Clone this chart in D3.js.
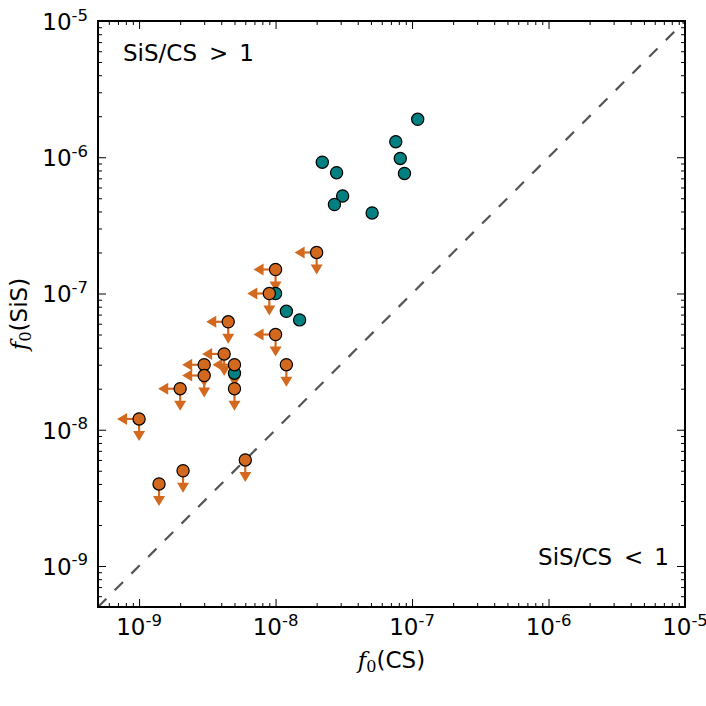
<!DOCTYPE html>
<html><head><meta charset="utf-8">
<script src="https://cdn.jsdelivr.net/npm/d3@7"></script>
<style>body{margin:0;background:#fff}svg{display:block}</style>
</head><body>
<svg id="c" width="706" height="706"></svg>
<script>
// Detections (teal)
const detCS  = [1.1e-7, 7.6e-8, 8.2e-8, 8.8e-8, 2.2e-8, 2.8e-8, 3.1e-8, 2.7e-8, 5.1e-8, 1.0e-8, 1.2e-8, 1.5e-8, 5.0e-9];
const detSiS = [1.9e-6, 1.3e-6, 9.8e-7, 7.6e-7, 9.2e-7, 7.7e-7, 5.2e-7, 4.5e-7, 3.9e-7, 1.0e-7, 7.4e-8, 6.4e-8, 2.6e-8];
// Upper limits (orange)
const limCS   = [2e-8, 1e-8, 9e-9, 4.5e-9, 1e-8, 4.2e-9, 5e-9, 3e-9, 3e-9, 5e-9, 1.2e-8, 2e-9, 1e-9, 6e-9, 2.1e-9, 1.4e-9];
const limSiS  = [2e-7, 1.5e-7, 1e-7, 6.2e-8, 5e-8, 3.6e-8, 3e-8, 3e-8, 2.5e-8, 2e-8, 3e-8, 2e-8, 1.2e-8, 6e-9, 5e-9, 4e-9];
const limCSUpper = [1, 1, 1, 1, 1, 1, 1, 1, 1, 0, 0, 1, 1, 0, 0, 0];
// Axis
const domainLo = 5e-10, domainHi = 1e-5;
const majorTicks = [1e-9, 1e-8, 1e-7, 1e-6, 1e-5];
const majorExp = ["-9", "-8", "-7", "-6", "-5"];

const svg = d3.select("#c");
const L = 98, R = 685, T = 21, B = 607;
const x = d3.scaleLog().domain([domainLo, domainHi]).range([L, R]);
const y = d3.scaleLog().domain([domainLo, domainHi]).range([B, T]);

const ORANGE = "#D2691E", TEAL = "#008080";
const sans = "'DejaVu Sans', sans-serif";
const serif = "'DejaVu Serif', serif";

// minor ticks from scale
const minor = x.ticks().filter(v => !majorTicks.some(m => Math.abs(m - v) / m < 1e-6));

function axisG(axisFn, scale, tx, ty) {
  const gM = svg.append("g").attr("transform", `translate(${tx},${ty})`)
    .call(axisFn(scale).tickValues(majorTicks).tickSize(-8).tickSizeOuter(0).tickFormat(""));
  const gm = svg.append("g").attr("transform", `translate(${tx},${ty})`)
    .call(axisFn(scale).tickValues(minor).tickSize(-4).tickSizeOuter(0).tickFormat(""));
  [gM, gm].forEach(g => {
    g.select(".domain").remove();
    g.selectAll(".tick line").attr("stroke", "#000").attr("stroke-width", 1);
  });
}
axisG(d3.axisBottom, x, 0, B);
axisG(d3.axisTop, x, 0, T);
axisG(d3.axisLeft, y, L, 0);
axisG(d3.axisRight, y, R, 0);

// diagonal 1:1 line
svg.append("line")
  .attr("x1", x(domainLo)).attr("y1", y(domainLo))
  .attr("x2", x(domainHi)).attr("y2", y(domainHi))
  .attr("stroke", "#555").attr("stroke-width", 2.2)
  .attr("stroke-dasharray", "11.8,11.8");

// tick labels
majorTicks.forEach((v, i) => {
  const t = svg.append("text").attr("x", x(v)).attr("y", 635)
    .attr("text-anchor", "middle").attr("font-family", sans).attr("fill", "#000");
  t.append("tspan").attr("font-size", 23).text("10");
  t.append("tspan").attr("font-size", 16.5).attr("dy", -9.5).text(majorExp[i]);
  const u = svg.append("text").attr("x", 88).attr("y", y(v) + 9)
    .attr("text-anchor", "end").attr("font-family", sans).attr("fill", "#000");
  u.append("tspan").attr("font-size", 23).text("10");
  u.append("tspan").attr("font-size", 16.5).attr("dy", -9.5).text(majorExp[i]);
});

// axis labels
function mathLabel(g, name) {
  const t = g.append("text").attr("text-anchor", "middle").attr("fill", "#000");
  t.append("tspan").attr("font-family", serif).attr("font-style", "italic").attr("font-size", 23).text("f");
  t.append("tspan").attr("font-family", serif).attr("font-size", 16).attr("dy", 4).text("0");
  t.append("tspan").attr("font-family", sans).attr("font-size", 23).attr("dy", -4).text("(" + name + ")");
}
mathLabel(svg.append("g").attr("transform", `translate(${(L + R) / 2},668)`), "CS");
mathLabel(svg.append("g").attr("transform", `translate(27,${(T + B) / 2}) rotate(-90)`), "SiS");

// annotations
function ratioText(xp, yp, anchor, op) {
  const t = svg.append("text").attr("x", xp).attr("y", yp).attr("text-anchor", anchor)
    .attr("font-family", sans).attr("font-size", 23).attr("fill", "#000");
  t.append("tspan").text("SiS/CS");
  t.append("tspan").attr("dx", 12).text(op);
  t.append("tspan").attr("dx", 11).text("1");
}
ratioText(123, 61, "start", ">");
ratioText(669, 565, "end", "<");

// upper-limit arrows
const AL = 22, HL = 10, HW = 6;
const limIdx = d3.range(limCS.length);
const arrows = svg.append("g");
limIdx.forEach(i => {
  const cx = x(limCS[i]), cy = y(limSiS[i]);
  // down arrow (SiS upper limit)
  arrows.append("line").attr("x1", cx).attr("y1", cy).attr("x2", cx).attr("y2", cy + AL - HL + 1)
    .attr("stroke", ORANGE).attr("stroke-width", 2.2);
  arrows.append("path")
    .attr("d", `M${cx - HW},${cy + AL - HL}L${cx + HW},${cy + AL - HL}L${cx},${cy + AL}Z`)
    .attr("fill", ORANGE);
  if (limCSUpper[i]) {
    arrows.append("line").attr("x1", cx).attr("y1", cy).attr("x2", cx - AL + HL - 1).attr("y2", cy)
      .attr("stroke", ORANGE).attr("stroke-width", 2.2);
    arrows.append("path")
      .attr("d", `M${cx - AL + HL},${cy - HW}L${cx - AL + HL},${cy + HW}L${cx - AL},${cy}Z`)
      .attr("fill", ORANGE);
  }
});

// detections
svg.append("g").selectAll("circle").data(d3.range(detCS.length)).join("circle")
  .attr("cx", i => x(detCS[i])).attr("cy", i => y(detSiS[i])).attr("r", 6.1)
  .attr("fill", TEAL).attr("stroke", "#000").attr("stroke-width", 1.2);

// limit circles
svg.append("g").selectAll("circle").data(limIdx).join("circle")
  .attr("cx", i => x(limCS[i])).attr("cy", i => y(limSiS[i])).attr("r", 6.1)
  .attr("fill", ORANGE).attr("stroke", "#000").attr("stroke-width", 1.2);

// frame
svg.append("rect").attr("x", L).attr("y", T).attr("width", R - L).attr("height", B - T)
  .attr("fill", "none").attr("stroke", "#000").attr("stroke-width", 2);
</script>
</body></html>
